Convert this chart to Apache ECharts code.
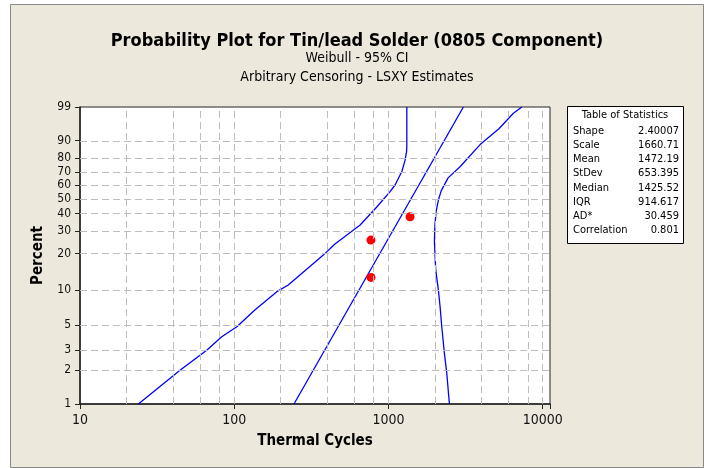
<!DOCTYPE html>
<html>
<head>
<meta charset="utf-8">
<title>Probability Plot for Tin/lead Solder</title>
<script src="https://cdn.jsdelivr.net/npm/echarts@6/dist/echarts.min.js"></script>
<style>
  html, body { margin: 0; padding: 0; background: #fff; }
  #chart { width: 704px; height: 468px; }
</style>
</head>
<body>
<div id="chart"></div>
<script>
// percent ticks on the Weibull probability axis
const pctTicks = [1, 2, 3, 5, 10, 20, 30, 40, 50, 60, 70, 80, 90, 99];
// vertical grid lines (Thermal Cycles)
const xGrid = [20, 40, 60, 80, 100, 200, 400, 600, 800, 1000, 2000, 4000, 6000, 8000, 10000];

// fitted line
const fitX = [244, 3060];
const fitPct = [1, 99];
// 95% CI, left curve
const leftBandX = [23.9, 44.5, 66.3, 83, 104, 136, 189, 224, 378, 450, 655, 840, 1024, 1104, 1189, 1220, 1282, 1310, 1315, 1315];
const leftBandPct = [1, 2, 3, 3.95, 4.83, 6.75, 9.7, 11.05, 19.5, 23.9, 33.2, 44.3, 55.2, 60.2, 67.8, 70.2, 78.5, 84, 87, 99];
// 95% CI, right curve
const rightBandX = [2483, 2388, 2304, 2216, 2161, 2107, 2026, 1985, 2000, 2036, 2107, 2200, 2435, 2911, 3927, 5200, 6457, 7320];
const rightBandPct = [1, 1.88, 2.82, 4.83, 7.2, 10, 14.7, 25, 33, 41.2, 49.1, 56, 65.6, 73.9, 88, 94.7, 98.25, 99];
// data points
const pointX = [770, 770, 1380];
const pointPct = [12.8, 25.6, 38.0];

const statNames = ['Shape', 'Scale', 'Mean', 'StDev', 'Median', 'IQR', 'AD*', 'Correlation'];
const statValues = ['2.40007', '1660.71', '1472.19', '653.395', '1425.52', '914.617', '30.459', '0.801'];

const FONT = '"DejaVu Sans Condensed", "DejaVu Sans", sans-serif';

// Weibull probability transform
const wb = p => Math.log(-Math.log(1 - p / 100));
const pair = (xs, ps) => xs.map((x, i) => [x, wb(ps[i])]);

const blue = { color: '#0000ff', width: 1.3 };

const statTexts = [];
statNames.forEach((n, i) => {
  const y = 131 + i * 14.2;
  statTexts.push({ type: 'text', x: 573, y: y, style: { text: n, font: '11px ' + FONT, fill: '#000', textAlign: 'left', textVerticalAlign: 'middle' } });
  statTexts.push({ type: 'text', x: 679, y: y, style: { text: statValues[i], font: '11px ' + FONT, fill: '#000', textAlign: 'right', textVerticalAlign: 'middle' } });
});

const option = {
  animation: false,
  backgroundColor: '#fff',
  textStyle: { fontFamily: FONT },
  title: [
    { text: 'Probability Plot for Tin/lead Solder (0805 Component)', left: 357, top: 31, textAlign: 'center', padding: 0,
      textStyle: { fontSize: 18, fontWeight: 'bold', color: '#000', lineHeight: 20, fontFamily: FONT } },
    { text: 'Weibull - 95% CI', left: 357, top: 49, textAlign: 'center', padding: 0,
      textStyle: { fontSize: 14, fontWeight: 'normal', color: '#000', lineHeight: 18, fontFamily: FONT } },
    { text: 'Arbitrary Censoring - LSXY Estimates', left: 357, top: 68, textAlign: 'center', padding: 0,
      textStyle: { fontSize: 14, fontWeight: 'normal', color: '#000', lineHeight: 18, fontFamily: FONT } }
  ],
  graphic: [
    { type: 'rect', z: -100, shape: { x: 10.5, y: 4.5, width: 693, height: 463 }, style: { fill: '#ece9dc', stroke: '#8a8a8a', lineWidth: 1 } },
    { type: 'rect', shape: { x: 567.5, y: 106.5, width: 116, height: 137 }, style: { fill: '#fff', stroke: '#000', lineWidth: 1 } },
    { type: 'text', x: 625, y: 115, style: { text: 'Table of Statistics', font: '11px ' + FONT, fill: '#000', textAlign: 'center', textVerticalAlign: 'middle' } }
  ].concat(statTexts),
  grid: {
    left: 80, top: 107, width: 470, height: 297,
    show: true, backgroundColor: '#fff', borderColor: '#222', borderWidth: 1
  },
  xAxis: {
    type: 'log', logBase: 10, min: 10, max: 11150,
    axisLine: { show: true, onZero: false, lineStyle: { color: '#222', width: 1.5 } },
    axisTick: { show: true, inside: false, length: 5, lineStyle: { color: '#222' } },
    axisLabel: { fontSize: 14, color: '#111', margin: 9, formatter: v => (v > 10001 ? '' : String(Math.round(v))) },
    splitLine: { show: false },
    name: 'Thermal Cycles', nameLocation: 'middle', nameGap: 30,
    nameTextStyle: { fontSize: 15, fontWeight: 'bold', color: '#000' }
  },
  yAxis: {
    type: 'value', min: wb(1), max: wb(99),
    axisLine: { show: true, onZero: false, lineStyle: { color: '#222', width: 1.5 } },
    axisTick: { show: true, inside: false, length: 5, customValues: pctTicks.map(wb), lineStyle: { color: '#222' } },
    axisLabel: { fontSize: 12, color: '#111', margin: 9, customValues: pctTicks.map(wb),
      formatter: v => String(Math.round(100 * (1 - Math.exp(-Math.exp(v))))) },
    splitLine: { show: false },
    name: 'Percent', nameLocation: 'middle', nameGap: 34, nameRotate: 90,
    nameTextStyle: { fontSize: 15, fontWeight: 'bold', color: '#000' }
  },
  series: [
    {
      name: 'grid', type: 'line', data: [], silent: true, z: 1,
      markLine: {
        silent: true, symbol: ['none', 'none'], label: { show: false },
        lineStyle: { color: '#bdbdbd', type: [7, 4], width: 1 },
        data: xGrid.map(v => ({ xAxis: v })).concat(pctTicks.slice(1, -1).map(p => ({ yAxis: wb(p) })))
      }
    },
    { name: 'Fit', type: 'line', data: pair(fitX, fitPct), symbol: 'none', lineStyle: blue, z: 3 },
    { name: 'CI left', type: 'line', data: pair(leftBandX, leftBandPct), symbol: 'none', lineStyle: blue, z: 3 },
    { name: 'CI right', type: 'line', data: pair(rightBandX, rightBandPct), symbol: 'none', lineStyle: blue, z: 3 },
    { name: 'Data', type: 'scatter', data: pair(pointX, pointPct), symbolSize: 9, itemStyle: { color: '#ff0000', opacity: 1 }, z: 4 }
  ]
};

const chart = echarts.init(document.getElementById('chart'));
chart.setOption(option);
window.onresize = function () {
  chart.resize();
};
</script>
</body>
</html>
